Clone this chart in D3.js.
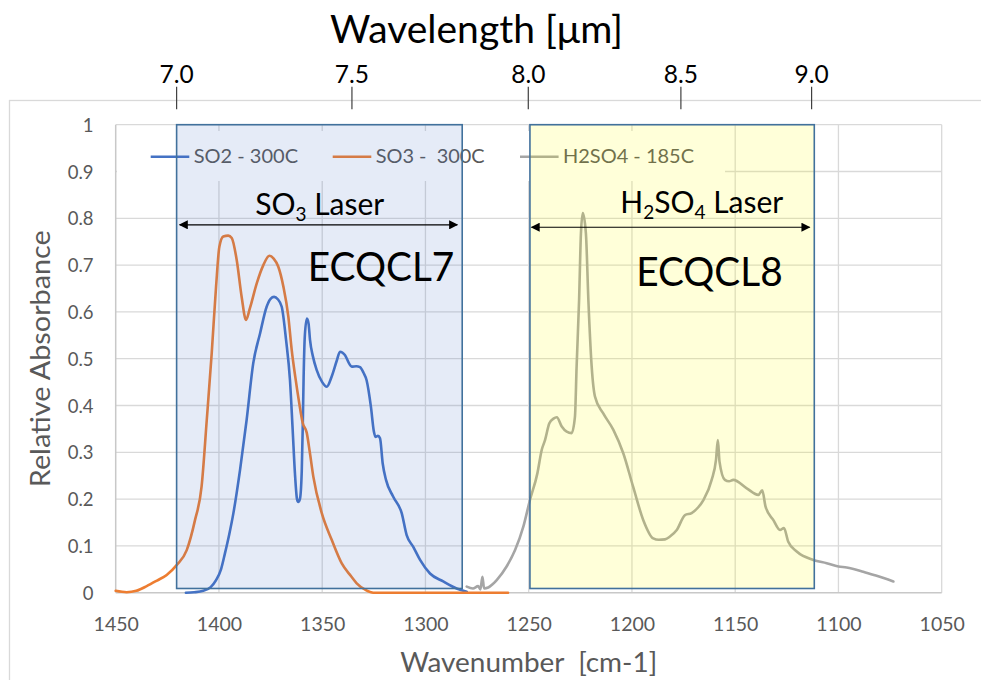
<!DOCTYPE html>
<html><head><meta charset="utf-8">
<script src="https://cdn.jsdelivr.net/npm/d3@7"></script>
<style>
html,body{margin:0;padding:0;background:#fff;}
svg{display:block;}
text{font-family:Lato,"Open Sans",sans-serif;}
.pre{white-space:pre;}
</style></head>
<body>
<svg id="chart" width="981" height="680"></svg>
<script>
// ---------------- data ----------------
const xTicks = [1450, 1400, 1350, 1300, 1250, 1200, 1150, 1100, 1050];
const yTicks = [0, 0.1, 0.2, 0.3, 0.4, 0.5, 0.6, 0.7, 0.8, 0.9, 1];
const topTickLabels = ["7.0", "7.5", "8.0", "8.5", "9.0"];
const topTickWavenumbers = [1420.5, 1335.6, 1250.2, 1176.3, 1113.0];

const seriesNames = ["SO2 - 300C", "SO3 -  300C", "H2SO4 - 185C"];
const seriesColors = ["#4472c4", "#ed7d31", "#a5a5a5"];

const so2Wn  = [1416,1412,1407.6,1404,1401.4,1399,1397.1,1395,1393,1389.8,1386.6,1383.4,1380.1,1376.9,1375,1373.3,1371.5,1369.6,1367.5,1365.6,1364.3,1363.2,1362.2,1361.6,1360.8,1359.9,1359.4,1359.0,1358.4,1357.4,1356.6,1355.9,1354.5,1352.7,1350,1347.8,1345.4,1343,1341.4,1339,1337,1335.7,1333.5,1331.7,1330,1328.5,1326.4,1325,1324.2,1323,1322,1320.7,1319.1,1315.6,1311.5,1309.1,1305.9,1302.6,1297.8,1291.4,1284.9,1280];
const so2Abs = [0,0.001,0.004,0.012,0.027,0.05,0.084,0.125,0.17,0.262,0.369,0.49,0.554,0.611,0.628,0.632,0.627,0.611,0.54,0.454,0.348,0.255,0.2,0.194,0.2,0.26,0.36,0.46,0.55,0.586,0.575,0.54,0.505,0.476,0.45,0.44,0.462,0.495,0.515,0.508,0.49,0.483,0.484,0.482,0.47,0.454,0.397,0.345,0.333,0.335,0.33,0.276,0.241,0.205,0.17,0.123,0.098,0.07,0.041,0.024,0.009,0.002];

const so3Wn  = [1450,1444.7,1440,1435,1430,1425.3,1420.5,1415.6,1411.6,1408.4,1405.9,1403.5,1401.4,1399.8,1397.9,1395.5,1393.8,1391.4,1389,1386.9,1385,1381.7,1378.5,1375.6,1373.5,1371.3,1368.8,1366.4,1364.8,1363,1361.3,1359.4,1357.5,1356,1354.3,1350.2,1345.4,1340.6,1336,1333.3,1329,1325.3,1300,1280,1260];
const so3Abs = [0.004,0.001,0.004,0.014,0.026,0.038,0.059,0.091,0.155,0.227,0.369,0.512,0.654,0.739,0.761,0.763,0.758,0.711,0.632,0.583,0.608,0.661,0.7,0.72,0.714,0.697,0.654,0.59,0.52,0.46,0.41,0.362,0.342,0.3,0.248,0.17,0.113,0.063,0.035,0.02,0.006,0,0,0,0];

const h2so4Wn  = [1280,1277,1274.5,1273.4,1272.4,1271.6,1269.6,1267.5,1265.5,1260.7,1256.6,1252.6,1249.4,1245.8,1243.7,1242.1,1240,1238,1236.4,1234,1231.6,1229.2,1227.6,1226.8,1225.6,1224.7,1223.8,1222.3,1221.1,1219.5,1217.9,1213.9,1209,1204.2,1199.4,1194.5,1189.7,1187,1184,1181.6,1178.3,1174.3,1171.1,1168,1165.4,1161.4,1159.3,1158.4,1157.6,1155,1153,1150.9,1144.4,1138.8,1136.9,1135.3,1131.5,1128.3,1126.4,1124.3,1120.2,1112.2,1105.7,1100,1096,1088,1081.5,1073.4];
const h2so4Abs = [0.013,0.009,0.014,0.007,0.034,0.009,0.011,0.018,0.027,0.056,0.091,0.141,0.198,0.255,0.305,0.326,0.362,0.372,0.375,0.355,0.344,0.341,0.376,0.483,0.625,0.768,0.811,0.768,0.625,0.483,0.419,0.383,0.348,0.298,0.226,0.155,0.116,0.113,0.114,0.12,0.134,0.166,0.17,0.182,0.198,0.241,0.284,0.326,0.28,0.241,0.238,0.241,0.223,0.209,0.219,0.184,0.155,0.134,0.138,0.109,0.088,0.07,0.063,0.056,0.054,0.045,0.036,0.024];

// laser windows (wavenumber ranges), arrow extents and labels
const laserFrom   = [1420.5, 1249.4];
const laserTo     = [1282.2, 1111.7];
const laserFills  = ["#4472c4", "#ffff00"];
const laserOpac   = [0.14, 0.15];
const arrowFrom   = [1419.0, 1248.6];
const arrowTo     = [1284.6, 1114.0];
const arrowLevel  = [0.786, 0.781];
const laserTitleMain = ["SO", "H"];
const laserLabelCenter = [1351.2, 1166.2];
const laserLabelLevel  = [0.807, 0.811];
const laserCodes = ["ECQCL7", "ECQCL8"];
const codeCenter = [1321.5, 1162.5];
const codeLevel  = [0.665, 0.655];

// ---------------- drawing ----------------
const svg = d3.select("#chart");
const x = d3.scaleLinear().domain([1450, 1050]).range([115.7, 941.7]);
const y = d3.scaleLinear().domain([0, 1]).range([592.7, 124.7]);

// outer frame
svg.append("rect").attr("x", 9.5).attr("y", 100.5).attr("width", 1000).attr("height", 700)
  .attr("fill", "none").attr("stroke", "#d9d9d9").attr("stroke-width", 1.3);

// gridlines
const grid = svg.append("g");
grid.selectAll("line.h").data(yTicks.filter(d => d > 0)).join("line")
  .attr("x1", x(1450)).attr("x2", x(1050)).attr("y1", d => y(d)).attr("y2", d => y(d))
  .attr("stroke", "#d9d9d9").attr("stroke-width", 1.3);
grid.selectAll("line.v").data(xTicks.slice(1)).join("line")
  .attr("class", "v")
  .attr("x1", d => x(d)).attr("x2", d => x(d)).attr("y1", y(0)).attr("y2", y(1))
  .attr("stroke", "#d9d9d9").attr("stroke-width", 1.3);
// axis lines
svg.append("line").attr("x1", x(1450)).attr("x2", x(1050)).attr("y1", y(0)).attr("y2", y(0))
  .attr("stroke", "#c8c8c8").attr("stroke-width", 1.5);
svg.append("line").attr("x1", x(1450)).attr("x2", x(1450)).attr("y1", y(0)).attr("y2", y(1))
  .attr("stroke", "#c8c8c8").attr("stroke-width", 1.5);

// bottom axis labels
const xAxis = d3.axisBottom(x).tickValues(xTicks).tickSize(0).tickPadding(0).tickFormat(d3.format("d"));
const gx = svg.append("g").attr("transform", `translate(0,${y(0)})`).call(xAxis);
gx.select(".domain").remove();
gx.selectAll("text").attr("font-size", 19.5).attr("fill", "#595959")
  .attr("dy", null).attr("y", 38.3).attr("font-family", "Lato");

// left axis labels
const yAxis = d3.axisLeft(y).tickValues(yTicks).tickSize(0).tickPadding(0).tickFormat(d => d === 0 || d === 1 ? d3.format("d")(d) : d3.format(".1f")(d));
const gy = svg.append("g").attr("transform", `translate(${93.5},0)`).call(yAxis);
gy.select(".domain").remove();
gy.selectAll("text").attr("font-size", 18.5).attr("fill", "#595959").attr("dy", "0.36em").attr("font-family", "Lato");

// series
const series = [
  {wn: so2Wn, v: so2Abs},
  {wn: so3Wn, v: so3Abs},
  {wn: h2so4Wn, v: h2so4Abs}
];
const line = d3.line().x(d => x(d[0])).y(d => y(d[1])).curve(d3.curveMonotoneX);
// draw gray first, then blue, orange on top as in reference
[2, 0, 1].forEach(i => {
  const pts = series[i].wn.map((w, k) => [w, series[i].v[k]]);
  svg.append("path").attr("d", line(pts)).attr("fill", "none")
    .attr("stroke", seriesColors[i]).attr("stroke-width", 2.6)
    .attr("stroke-linejoin", "round").attr("stroke-linecap", "round");
});

// legend (white background box)
svg.append("rect").attr("x", 117).attr("y", 131).attr("width", 608).attr("height", 50).attr("fill", "#fff");
const legX = [150.7, 332.7, 520];
const legTextLen = [104.4, 109, 131];
const lg = svg.append("g");
seriesNames.forEach((n, i) => {
  lg.append("line").attr("x1", legX[i]).attr("x2", legX[i] + 38.6).attr("y1", 156.7).attr("y2", 156.7)
    .attr("stroke", seriesColors[i]).attr("stroke-width", 2.6);
  lg.append("text").attr("class", "pre").attr("x", legX[i] + 43).attr("y", 163.3)
    .attr("font-size", 18.5).attr("fill", "#595959")
    .attr("textLength", legTextLen[i]).attr("lengthAdjust", "spacingAndGlyphs").text(n);
});

// laser windows (semi-transparent overlays)
laserFrom.forEach((f, i) => {
  svg.append("rect").attr("x", x(f)).attr("y", y(1)).attr("width", x(laserTo[i]) - x(f))
    .attr("height", y(0.009) - y(1))
    .attr("fill", laserFills[i]).attr("fill-opacity", laserOpac[i])
    .attr("stroke", "#41719c").attr("stroke-width", 1.6);
});

// arrows
const defs = svg.append("defs");
defs.append("marker").attr("id", "ah").attr("viewBox", "0 0 10 10").attr("refX", 9).attr("refY", 5)
  .attr("markerWidth", 11).attr("markerHeight", 9).attr("markerUnits", "userSpaceOnUse")
  .attr("orient", "auto-start-reverse")
  .append("path").attr("d", "M0,0 L10,5 L0,10 Z").attr("fill", "#000");
arrowFrom.forEach((f, i) => {
  svg.append("line").attr("x1", x(f)).attr("x2", x(arrowTo[i]))
    .attr("y1", y(arrowLevel[i])).attr("y2", y(arrowLevel[i]))
    .attr("stroke", "#000").attr("stroke-width", 1.1)
    .attr("marker-start", "url(#ah)").attr("marker-end", "url(#ah)");
});

// laser titles with subscripts
function laserTitle(i) {
  const t = svg.append("text").attr("x", x(laserLabelCenter[i])).attr("y", y(laserLabelLevel[i]))
    .attr("text-anchor", "middle").attr("font-size", 30).attr("fill", "#000");
  if (i === 0) {
    t.append("tspan").text("SO");
    t.append("tspan").attr("font-size", 19).attr("dy", 6).text("3");
    t.append("tspan").attr("dy", -6).text(" Laser");
  } else {
    t.append("tspan").text("H");
    t.append("tspan").attr("font-size", 19).attr("dy", 6).text("2");
    t.append("tspan").attr("dy", -6).text("SO");
    t.append("tspan").attr("font-size", 19).attr("dy", 6).text("4");
    t.append("tspan").attr("dy", -6).text(" Laser");
  }
}
laserTitle(0); laserTitle(1);
laserCodes.forEach((c, i) => {
  svg.append("text").attr("x", x(codeCenter[i])).attr("y", y(codeLevel[i]))
    .attr("text-anchor", "middle").attr("font-size", 40).attr("fill", "#000")
    .attr("textLength", 146.5).attr("lengthAdjust", "spacingAndGlyphs").text(c);
});

// top wavelength axis (ticks only)
const gt = svg.append("g");
topTickWavenumbers.forEach((w, i) => {
  gt.append("line").attr("x1", x(w)).attr("x2", x(w)).attr("y1", 86.7).attr("y2", 109.3)
    .attr("stroke", "#404040").attr("stroke-width", 1.2);
  gt.append("text").attr("x", x(w)).attr("y", 82.7).attr("text-anchor", "middle")
    .attr("font-size", 24.5).attr("fill", "#000").text(topTickLabels[i]);
});
svg.append("text").attr("x", 476.5).attr("y", 43.3).attr("text-anchor", "middle")
  .attr("font-size", 39).attr("fill", "#000")
  .attr("textLength", 293).attr("lengthAdjust", "spacingAndGlyphs").text("Wavelength [μm]");

// axis titles
svg.append("text").attr("class", "pre").attr("x", (x(1450) + x(1050)) / 2).attr("y", 672)
  .attr("text-anchor", "middle").attr("font-size", 26).attr("fill", "#595959")
  .attr("textLength", 257).attr("lengthAdjust", "spacingAndGlyphs").text("Wavenumber  [cm-1]");
svg.append("text").attr("transform", `translate(50,${(y(0) + y(1)) / 2}) rotate(-90)`)
  .attr("text-anchor", "middle").attr("font-size", 26).attr("fill", "#595959")
  .attr("textLength", 257).attr("lengthAdjust", "spacingAndGlyphs").text("Relative Absorbance");
</script>
</body></html>
